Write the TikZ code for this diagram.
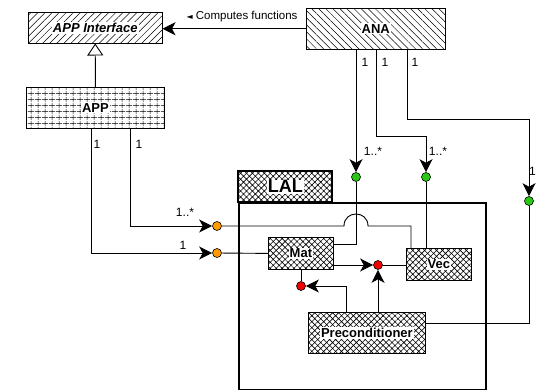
\documentclass[tikz,border=0pt]{standalone}
\usepackage{fontspec}
\setmainfont{Liberation Sans}
\newfontfamily\dejavu{DejaVu Sans}
\usetikzlibrary{patterns,patterns.meta,arrows.meta,calc}
\pgfdeclarepatternformonly{appgrid}{\pgfpointorigin}{\pgfpoint{7pt}{5.5pt}}{\pgfpoint{7pt}{5.5pt}}{%
  \pgfsetlinewidth{0.5pt}%
  \pgfpathmoveto{\pgfpoint{0pt}{2.75pt}}\pgfpathlineto{\pgfpoint{7pt}{2.75pt}}%
  \pgfpathmoveto{\pgfpoint{3.5pt}{0pt}}\pgfpathlineto{\pgfpoint{3.5pt}{5.5pt}}%
  \pgfusepath{stroke}}
\definecolor{dgreen}{RGB}{40,200,20}
\definecolor{dorange}{RGB}{255,153,0}
\definecolor{dred}{RGB}{240,0,0}
\begin{document}
\begin{tikzpicture}[x=1pt,y=-1pt,
  box/.style={draw=black,line width=0.8pt,inner sep=0pt,anchor=north west},
  txt/.style={fill=white,inner sep=1pt,font=\bfseries\fontsize{13}{15}\selectfont},
  lbl/.style={inner sep=0pt,font=\fontsize{12}{14}\selectfont},
  wire/.style={line width=0.9pt},
  arr/.style={-{Stealth[length=13pt,width=13pt,inset=3.5pt]}},
  dot/.style={circle,draw=black,line width=0.6pt,minimum size=9pt,inner sep=0pt},
  xh/.style={pattern={Hatch[angle=45,distance=4.2pt,line width=0.6pt]}},
]
\useasboundingbox (0,0) rectangle (536,390);

% boxes
\node[box,minimum width=134pt,minimum height=31pt,pattern={Lines[angle=45,distance=5pt,line width=0.5pt]}] (appi) at (28,12) {};
\node[txt,font=\bfseries\itshape\fontsize{13}{15}\selectfont] (appit) at (appi) {APP Interface};
\node[box,minimum width=138pt,minimum height=41pt,pattern=appgrid] (app) at (26,87) {};
\node[txt] (appt) at (app) {APP};
\node[box,minimum width=139pt,minimum height=41pt,pattern={Lines[angle=-45,distance=5pt,line width=0.5pt]}] (ana) at (306,8) {};
\node[txt] (anat) at (ana) {ANA};

\node[box,line width=2pt,minimum width=94pt,minimum height=31pt,xh] (laltab) at (238,171) {};
\node[txt,font=\bfseries\fontsize{18}{20}\selectfont] (lalt) at (laltab) {LAL};
\node[box,line width=2pt,minimum width=247pt,minimum height=187pt] (lal) at (238,202) {};

\node[box,minimum width=65pt,minimum height=32pt,xh] (mat) at (268,237) {};
\node[txt] (matt) at (mat) {Mat};
\node[box,minimum width=65pt,minimum height=32pt,xh] (vec) at (406,248) {};
\node[txt] (vect) at (vec) {Vec};
\node[box,minimum width=117pt,minimum height=41pt,xh] (prec) at (308,312) {};
\node[txt] (prect) at (prec) {Preconditioner};

% dots
\node[dot,fill=dgreen] (g1) at (356,177) {};
\node[dot,fill=dgreen] (g2) at (426,177) {};
\node[dot,fill=dgreen] (g3) at (529,201) {};
\node[dot,fill=dorange] (o1) at (217,226) {};
\node[dot,fill=dorange] (o2) at (217,253) {};
\node[dot,fill=dred] (r1) at (378,265) {};
\node[dot,fill=dred] (r2) at (301,286) {};

% connectors
\draw[wire,arr] (ana.west) -- (ana.west -| appi.east);
\node[lbl,font=\fontsize{11.5}{13}\selectfont] (cf) at (242,17) {{\dejavu\fontsize{8}{10}\selectfont ◄}\ Computes functions};
\draw[wire,-{Triangle[open,length=12pt,width=16pt]}] (app.north) -- (appi.south);

\draw[wire,arr] (ana.south -| g1) -- (g1);
\draw[wire,arr] ($(ana.south west)+(70,0)$) -- ++(0,87) -| (g2);
\draw[wire,arr] ($(ana.south west)+(101,0)$) -- ++(0,70) -| (g3);
\draw[wire] (g1) |- ($(mat.north east)+(0,7)$);
\draw[wire] (g2) -- (g2 |- vec.north);
\draw[wire] (g3) |- ($(prec.north east)+(0,11)$);

\draw[wire,arr] ($(app.south west)+(65,0)$) |- (o2);
\draw[wire,arr] ($(app.south west)+(104,0)$) |- (o1);
\draw[wire] (o2) -- (mat.west);
\coordinate (jl) at ($(o1 -| g1)+(-12,0)$);
\coordinate (jr) at ($(o1 -| g1)+(12,0)$);
\draw[wire] (o1) -- (jl) .. controls ($(jl)+(0,-16)$) and ($(jr)+(0,-16)$) .. (jr) -| ($(vec.north west)+(5,0)$);

\draw[wire,arr] (mat.east |- r1) -- (r1);
\draw[wire] (r1) -- (vec.west |- r1);
\draw[wire] (mat.south -| r2) -- (r2);
\draw[wire,arr] ($(prec.north west)+(38,0)$) |- (r2);
\draw[wire,arr] (prec.north -| r1) -- (r1);

% labels
\node[lbl] (l1) at (365,62) {1};
\node[lbl] (l2) at (385,62) {1};
\node[lbl] (l3) at (415,62) {1};
\node[lbl] (l4) at (373,151) {1..*};
\node[lbl] (l5) at (438,151) {1..*};
\node[lbl,anchor=east] (l6) at (536,171) {1};
\node[lbl] (l7) at (97,144) {1};
\node[lbl] (l8) at (139,144) {1};
\node[lbl] (l9) at (185,212) {1..*};
\node[lbl] (l10) at (183,245) {1};
\end{tikzpicture}
\end{document}
